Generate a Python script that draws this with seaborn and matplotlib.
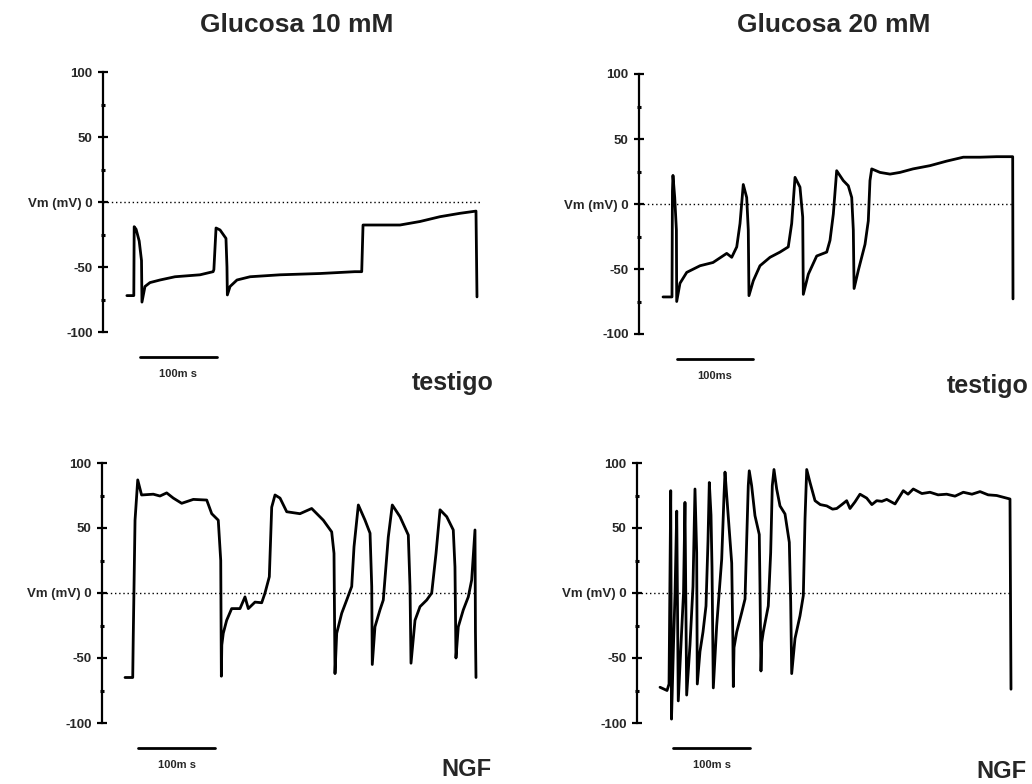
import numpy as np
import pandas as pd
import matplotlib
matplotlib.use("Agg")
import matplotlib.pyplot as plt
import seaborn as sns

# ---------------- data (time in ms, membrane potential in mV) ----------------
titles = ["Glucosa 10 mM", "Glucosa 20 mM"]
conditions = ["testigo", "NGF"]
scale_labels = ["100m s", "100ms", "100m s", "100m s"]
ytick_values = [-100, -50, 0, 50, 100]
ytick_labels = ["-100", "-50", "Vm (mV) 0", "50", "100"]
minor_ticks = [-75, -25, 25, 75]

# Glucosa 10 mM - testigo
tl_t = [31, 40, 40.5, 43, 47, 50, 50.6, 54.5, 61, 74, 93.5, 126, 143, 144,
        146.8, 152, 159.7, 161, 161.5, 165, 174, 191, 230, 282, 327, 336,
        337.7, 385.7, 411.7, 437.7, 463.6, 484.4, 485.7]
tl_v = [-72, -72, -19, -21, -30, -45, -77, -65, -62, -60, -57.5, -56, -53.6, -52,
        -20, -21.5, -28, -50, -71.5, -65, -60, -57.5, -56, -55, -53.6, -53.6,
        -17.7, -17.7, -15, -11.3, -8.7, -7, -73]

# Glucosa 20 mM - testigo
tr_t = [31.6, 43.4, 44.0, 44.7, 47.0, 49.2, 49.6, 53.9, 62.8, 80.3, 97.4,
        115.4, 122.0, 128.6, 132.9, 137.2, 141.7, 143.8, 144.7, 150.4, 159.2,
        172.4, 185.5, 196.4, 200.9, 205.3, 211.8, 215.4, 216.2, 222.8, 233.8,
        247.0, 251.3, 255.7, 260.1, 268.8, 275.4, 279.9, 282.0, 283.0, 288.6,
        297.4, 301.7, 303.9, 306.2, 317.1, 330.3, 343.4, 360.5, 382.9, 404.9,
        426.7, 448.7, 470.7, 491.7, 492.1]
tr_v = [-71.5, -71.5, 10, 22, 5, -20, -75, -61, -52.6, -47.5, -45,
        -38, -41, -33, -15, 15, 5, -20, -70.5, -59, -47.5,
        -41, -37, -33, -15, 20.5, 13, -10, -69.5, -54, -40,
        -37, -28, -7.7, 25.6, 18, 14, 5, -20, -65, -51,
        -31, -13, 18, 27, 24.3, 23, 24.3, 27, 29.5, 33,
        36, 36, 36.4, 36.4, -73]

# Glucosa 10 mM - NGF
bl_t = [29.9, 39.9, 40.6, 42.9, 46.4, 51.4, 66.6, 75.3, 84.0, 92.6, 103.5,
        118.6, 136.0, 142.5, 151.0, 154.2, 155.0, 155.6, 157.5, 161.9, 168.4,
        179.2, 185.7, 190.0, 198.7, 207.4, 211.7, 217.3, 220.4, 224.7, 231.2,
        239.9, 257.1, 272.3, 287.4, 298.3, 301.3, 302.6, 304.8, 311.3, 317.8,
        324.3, 327.3, 332.9, 341.6, 348.1, 350.3, 351.0, 354.5, 361.0, 365.3,
        371.8, 377.0, 387.0, 397.8, 400.0, 401.3, 406.5, 413.0, 421.7, 428.2,
        433.8, 439.0, 447.7, 456.2, 458.4, 459.7, 462.7, 469.2, 475.7, 480.1,
        484.4, 485.0, 485.7]
bl_v = [-65, -65, -33, 56, 87, 75.4, 76, 74.6, 77, 73, 69,
        72, 71.5, 61, 56, 25, -64, -40, -31, -21, -12,
        -12, -3, -12, -7, -7.5, 0, 12.5, 66, 75.4, 73,
        62.5, 61, 65, 56, 47, 30.5, -62, -31, -15.6, -5.4,
        5, 35.6, 67.7, 56, 46, 5, -55, -26, -13, -5.4,
        43, 67.7, 58.7, 44.6, 5, -54, -21, -10.5, -5.4, 0,
        30.5, 64, 58.7, 48.5, 20, -50, -26, -13, -3, 10,
        48.5, -30, -65]

# Glucosa 20 mM - NGF
br_t = [29.9, 39.0, 41.6, 43.8, 44.8, 47.4, 49.4, 51.6, 53.6, 57.1, 60.4,
        62.3, 64.5, 68.8, 72.7, 75.3, 77.5, 78.3, 81.8, 85.7, 89.6, 92.2,
        93.9, 96.1, 97.4, 99.1, 103.5, 110.0, 113.0, 114.3, 116.5, 123.0,
        124.5, 125.1, 126.0, 129.5, 136.0, 140.3, 142.5, 144.5, 145.8, 148.9,
        153.2, 158.8, 159.7, 160.5, 161.0, 162.0, 164.0, 170.5, 173.6, 175.7,
        177.9, 181.4, 185.7, 192.2, 197.8, 199.6, 200.9, 205.2, 211.7, 216.0,
        218.2, 220.4, 224.7, 231.2, 238.0, 246.4, 254.0, 259.4, 266.0, 272.3,
        276.6, 283.0, 289.6, 298.3, 305.0, 311.3, 318.0, 324.3, 335.1, 345.8,
        352.0, 358.8, 370.0, 380.5, 391.0, 402.2, 413.0, 423.8, 435.0, 445.5,
        456.0, 467.1, 484.4, 485.7]
br_v = [-72.5, -75, -70, 78.7, -97, -40, 0, 63, -83, -40, 0,
        69.7, -78.5, -40, 5, 80, 31, -70, -45, -30, -10, 40,
        85, 60, 20, -73, -25, 26, 75, 93, 75, 23,
        -35, -72, -42, -30, -15, -4.6, 41.5, 82.5, 94, 82.5,
        59.5, 45, 5.6, -35, -60, -38, -30, -10, 31, 82.5,
        95, 80, 67, 60.8, 39, -7, -62, -35, -17.5, -2,
        57, 95, 85, 71, 68, 67, 64.5, 65, 68, 71,
        65, 70, 76, 73, 68, 71, 70.5, 72, 68.5, 78.7,
        76, 80, 76.5, 77.5, 75.5, 76, 74.5, 77.5, 76, 78,
        75.5, 75, 72.3, -74]

traces = [(tl_t, tl_v), (tr_t, tr_v), (bl_t, bl_v), (br_t, br_v)]
zero_line_end = [490, 492, 487, 487]      # ms
scale_start = [48, 50, 47, 47]           # ms
scale_len = 100                           # ms

for t, v in traces:
    assert len(t) == len(v)

# ---------------- layout (pixel boxes) ----------------
W, H = 1032, 784
sns.set_theme(style="white")
plt.rcParams["font.family"] = ["Liberation Sans", "DejaVu Sans"]
plt.rcParams["font.weight"] = "bold"

fig = plt.figure(figsize=(W / 100, H / 100), dpi=100)

# (spine x px, y px of +100, y px of -100, right edge px, px per ms)
boxes = [(103, 72, 332, 520, 0.77),
         (639, 74, 334, 1032, 0.76),
         (102, 463, 723, 520, 0.77),
         (637, 463, 723, 1032, 0.77)]


def px_axes(x0, ytop, ybot, x1):
    return fig.add_axes([x0 / W, 1 - ybot / H, (x1 - x0) / W, (ybot - ytop) / H])


for i, ((t, v), (x0, ytop, ybot, x1, ppm)) in enumerate(zip(traces, boxes)):
    ax = px_axes(x0, ytop, ybot, x1)
    df = pd.DataFrame({"t": t, "v": v})
    ax.hlines(0, 0, zero_line_end[i], colors="black", linestyles=(0, (1, 2)),
              linewidth=1.0)
    sns.lineplot(data=df, x="t", y="v", ax=ax, sort=False, estimator=None,
                 color="black", linewidth=2.0, legend=False)
    ax.set_xlim(0, (x1 - x0) / ppm)
    ax.set_ylim(-100, 100)
    ax.set_xlabel("")
    ax.set_ylabel("")
    ax.set_xticks([])
    for s in ["top", "right", "bottom"]:
        ax.spines[s].set_visible(False)
    ax.spines["left"].set_linewidth(1.6)
    ax.spines["left"].set_color("black")
    ax.set_yticks(ytick_values)
    ax.set_yticklabels(ytick_labels, fontsize=9.5, fontweight="bold")
    ax.set_yticks(minor_ticks, minor=True)
    ax.tick_params(axis="y", which="major", direction="inout", length=7,
                   width=1.6, color="black", pad=4, left=True)
    ax.tick_params(axis="y", which="minor", direction="inout", length=3,
                   width=2.2, color="black", left=True)
    # scale bar
    ybar = -100 - 25 / 1.3
    ax.plot([scale_start[i], scale_start[i] + scale_len], [ybar, ybar],
            color="black", linewidth=2.0, clip_on=False)
    ax.text(scale_start[i] + scale_len / 2, ybar - 9, scale_labels[i],
            ha="center", va="top", fontsize=8, fontweight="bold", clip_on=False)

# titles and condition labels
fig.text(297 / W, 1 - 25 / H, titles[0], ha="center", va="center",
         fontsize=19, fontweight="bold")
fig.text(834 / W, 1 - 25 / H, titles[1], ha="center", va="center",
         fontsize=19, fontweight="bold")
fig.text(453 / W, 1 - 383 / H, conditions[0], ha="center", va="center",
         fontsize=18, fontweight="bold")
fig.text(988 / W, 1 - 386 / H, conditions[0], ha="center", va="center",
         fontsize=18, fontweight="bold")
fig.text(466 / W, 1 - 770 / H, conditions[1], ha="center", va="center",
         fontsize=17, fontweight="bold")
fig.text(1001 / W, 1 - 771 / H, conditions[1], ha="center", va="center",
         fontsize=17, fontweight="bold")

fig.savefig("out.png", dpi=100)
